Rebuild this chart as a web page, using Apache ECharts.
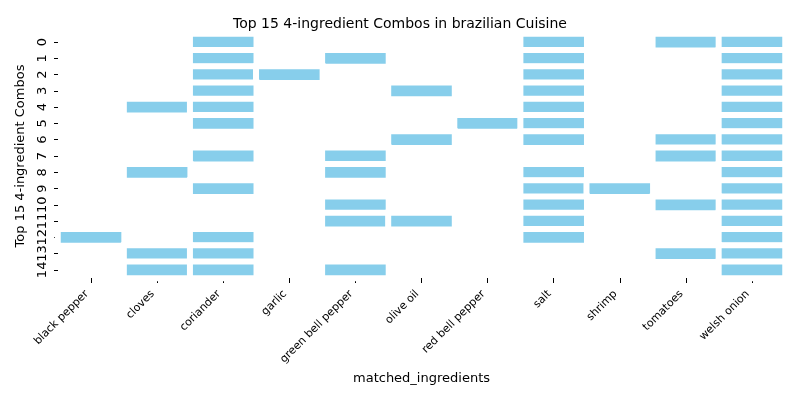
<!DOCTYPE html>
<html>
<head>
<meta charset="utf-8">
<script src="https://cdn.jsdelivr.net/npm/echarts@6/dist/echarts.min.js"></script>
<style>html,body{margin:0;padding:0;background:#fff}#c{width:800px;height:400px}</style>
</head>
<body>
<div id="c"></div>
<script>
var ingredients = ['black pepper','cloves','coriander','garlic','green bell pepper','olive oil','red bell pepper','salt','shrimp','tomatoes','welsh onion'];
var comboLabels = ['0','1','2','3','4','5','6','7','8','9','10','11','12','13','14'];
var combos = [
  ['coriander','salt','tomatoes','welsh onion'],
  ['coriander','green bell pepper','salt','welsh onion'],
  ['coriander','garlic','salt','welsh onion'],
  ['coriander','olive oil','salt','welsh onion'],
  ['cloves','coriander','salt','welsh onion'],
  ['coriander','red bell pepper','salt','welsh onion'],
  ['olive oil','salt','tomatoes','welsh onion'],
  ['coriander','green bell pepper','tomatoes','welsh onion'],
  ['cloves','green bell pepper','salt','welsh onion'],
  ['coriander','salt','shrimp','welsh onion'],
  ['green bell pepper','salt','tomatoes','welsh onion'],
  ['green bell pepper','olive oil','salt','welsh onion'],
  ['black pepper','coriander','salt','welsh onion'],
  ['cloves','coriander','tomatoes','welsh onion'],
  ['cloves','coriander','green bell pepper','welsh onion']
];

var data = [];
combos.forEach(function(row, r){
  row.forEach(function(ing){
    data.push([ingredients.indexOf(ing), r, 1]);
  });
});

var chart = echarts.init(document.getElementById('c'), null, {renderer:'canvas'});
var font = 'DejaVu Sans';
chart.setOption({
  animation: false,
  title: {
    text: 'Top 15 4-ingredient Combos in brazilian Cuisine',
    left: 'center', top: 12,
    textStyle: {fontFamily: font, fontSize: 14, fontWeight: 'normal', color: '#000'}
  },
  grid: {left: 58, right: 15, top: 34, bottom: 122},
  xAxis: {
    type: 'category',
    data: ingredients,
    name: 'matched_ingredients',
    nameLocation: 'middle',
    nameGap: 93,
    nameTextStyle: {fontFamily: font, fontSize: 13, color: '#000'},
    axisLine: {show: false},
    axisTick: {show: true, alignWithLabel: true, length: 5, lineStyle: {color: '#000'}},
    axisLabel: {rotate: 45, fontFamily: font, fontSize: 11, color: '#000', margin: 10, padding: [0, 6, 0, 0], interval: 0},
    splitLine: {show: false}
  },
  yAxis: {
    type: 'category',
    data: comboLabels,
    inverse: true,
    name: 'Top 15 4-ingredient Combos',
    nameLocation: 'middle',
    nameGap: 31,
    nameTextStyle: {fontFamily: font, fontSize: 13, color: '#000'},
    axisLine: {show: false},
    axisTick: {show: true, alignWithLabel: true, length: 4, lineStyle: {color: '#000'}},
    axisLabel: {rotate: 90, fontFamily: font, fontSize: 13, color: '#000', margin: 9, interval: 0},
    splitLine: {show: false}
  },
  visualMap: {show: false, min: 0, max: 1, inRange: {color: ['#87CEEB','#87CEEB']}},
  series: [{
    type: 'heatmap',
    data: data,
    itemStyle: {borderColor: '#fff', borderWidth: 6},
    emphasis: {disabled: true}
  }]
});
</script>
</body>
</html>
